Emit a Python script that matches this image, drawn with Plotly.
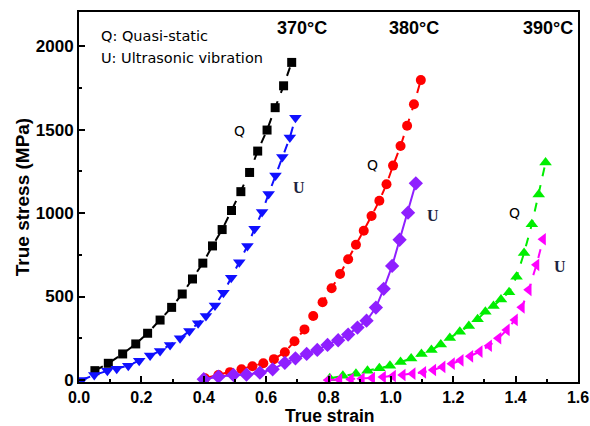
import plotly.graph_objects as go

# ---- data: true stress (MPa) vs true strain ----
# 370 °C
q370_x = [0.051, 0.094, 0.140, 0.182, 0.220, 0.260, 0.297, 0.331, 0.364, 0.397, 0.428,
          0.459, 0.489, 0.519, 0.547, 0.573, 0.603, 0.629, 0.656, 0.682]
q370_y = [56, 100, 156, 216, 280, 359, 435, 515, 605, 700, 803,
          901, 1015, 1128, 1243, 1371, 1497, 1631, 1762, 1902]
u370_x = [0.009, 0.049, 0.091, 0.121, 0.158, 0.193, 0.228, 0.260, 0.292, 0.324, 0.354,
          0.382, 0.407, 0.436, 0.463, 0.488, 0.514, 0.540, 0.563, 0.587, 0.608, 0.630,
          0.652, 0.676, 0.694]
u370_y = [0, 30, 55, 68, 86, 116, 146, 174, 210, 250, 293,
          340, 384, 446, 523, 612, 705, 803, 906, 1006, 1114, 1225,
          1336, 1452, 1570]

# 380 °C
q380_x = [0.404, 0.447, 0.484, 0.521, 0.556, 0.591, 0.625, 0.660, 0.691, 0.723, 0.751,
          0.781, 0.810, 0.837, 0.863, 0.888, 0.913, 0.938, 0.963, 0.986, 1.007, 1.031,
          1.052, 1.074, 1.096]
q380_y = [10, 30, 47, 64, 82, 100, 125, 166, 232, 303, 383,
          466, 549, 635, 723, 810, 894, 982, 1074, 1172, 1284, 1401,
          1523, 1651, 1796]
u380_x = [0.400, 0.447, 0.495, 0.537, 0.580, 0.621, 0.660, 0.694, 0.730, 0.764, 0.797,
          0.831, 0.863, 0.893, 0.922, 0.952, 0.977, 1.004, 1.028, 1.055, 1.080]
u380_y = [5, 20, 30, 32, 44, 64, 103, 130, 156, 180, 210,
          238, 272, 314, 355, 434, 546, 683, 840, 1002, 1178]

# 390 °C
q390_x = [0.804, 0.846, 0.888, 0.925, 0.963, 0.997, 1.031, 1.065, 1.098, 1.130, 1.160,
          1.189, 1.221, 1.250, 1.278, 1.303, 1.329, 1.353, 1.379, 1.403, 1.427, 1.452,
          1.474, 1.496]
q390_y = [10, 25, 38, 56, 70, 85, 108, 128, 155, 180, 212,
          252, 289, 324, 364, 409, 443, 482, 526, 618, 760, 933,
          1111, 1302]
u390_x = [0.799, 0.835, 0.872, 0.907, 0.940, 0.975, 1.007, 1.038, 1.070, 1.104, 1.136,
          1.166, 1.196, 1.224, 1.255, 1.285, 1.315, 1.345, 1.372, 1.398, 1.420, 1.442,
          1.467, 1.488]
u390_y = [0, 2, 5, 8, 12, 18, 24, 30, 38, 46, 60,
          78, 98, 118, 142, 170, 205, 250, 300, 360, 435, 540,
          690, 843]

# curve annotations (label, x, y)
curve_labels = [("Q", 0.516, 1491), ("U", 0.705, 1150),
                ("Q", 0.942, 1287), ("U", 1.135, 988),
                ("Q", 1.397, 1000), ("U", 1.542, 677)]
temp_labels = [("370°C", 0.715, 2108), ("380°C", 1.074, 2108), ("390°C", 1.503, 2108)]
legend_lines = ["Q: Quasi-static", "U: Ultrasonic vibration"]
x_title = "True strain"
y_title = "True stress (MPa)"

series = [
    (q370_x, q370_y, "#000000", "square", 9, "dash"),
    (u370_x, u370_y, "#1010ff", "triangle-down", 11, "dash"),
    (q380_x, q380_y, "#ff0000", "circle", 10, "dash"),
    (u380_x, u380_y, "#8f1fff", "diamond", 11, "solid"),
    (q390_x, q390_y, "#00ee00", "triangle-up", 11, "dash"),
    (u390_x, u390_y, "#ff00ff", "triangle-left", 11, "dash"),
]

fig = go.Figure()
for xs, ys, col, sym, size, dash in series:
    fig.add_trace(go.Scatter(
        x=xs, y=ys, mode="lines+markers",
        line=dict(color=col, width=2, dash=dash),
        marker=dict(symbol=sym, size=size, color=col, line=dict(width=0)),
        showlegend=False,
    ))

annotations = []
for txt, x, y in curve_labels:
    if txt == "Q":
        f = dict(family="DejaVu Sans, Arial", size=14, color="#000000")
    else:
        f = dict(family="Liberation Serif, Times New Roman", size=16, color="#1c2440", weight="bold")
    annotations.append(dict(x=x, y=y, text=txt, showarrow=False, font=f,
                            xanchor="center", yanchor="middle"))
for txt, x, y in temp_labels:
    annotations.append(dict(x=x, y=y, text=txt, showarrow=False,
                            font=dict(family="Liberation Sans, Arial", size=18,
                                      color="#000000", weight="bold"),
                            xanchor="center", yanchor="middle"))
for i, txt in enumerate(legend_lines):
    annotations.append(dict(x=0.0705, y=2060 - i * 132, text=txt, showarrow=False,
                            font=dict(family="DejaVu Sans, Arial", size=14.5, color="#000000"),
                            xanchor="left", yanchor="middle", xshift=-2))

# x-axis title placed below the tick labels
annotations.append(dict(x=0.503, y=0, xref="paper", yref="paper", text=x_title,
                        showarrow=False, xanchor="center", yanchor="middle", yshift=-33.5,
                        font=dict(family="Liberation Sans, Arial", size=17.5,
                                  color="#000000", weight="bold")))

y_title_font = dict(family="Liberation Sans, Arial", size=19, color="#000000", weight="bold")
tick_font = dict(family="Liberation Sans, Arial", size=16, color="#000000", weight="bold")

fig.update_layout(
    width=590, height=426,
    margin=dict(l=79, r=12, t=12, b=44),
    paper_bgcolor="white", plot_bgcolor="white",
    annotations=annotations,
    xaxis=dict(
        range=[0, 1.6], dtick=0.2, tickformat=".1f", automargin=False,
        showgrid=False, zeroline=False,
        showline=True, linecolor="black", linewidth=2, mirror=True,
        ticks="inside", ticklen=6, tickwidth=2, tickcolor="black",
        minor=dict(dtick=0.1, ticks="inside", ticklen=3, tickwidth=2, tickcolor="black"),
        tickfont=tick_font,
    ),
    yaxis=dict(
        range=[-12, 2204], dtick=500, automargin=False,
        showgrid=False, zeroline=False,
        showline=True, linecolor="black", linewidth=2, mirror=True,
        ticks="inside", ticklen=6, tickwidth=2, tickcolor="black",
        minor=dict(dtick=250, ticks="inside", ticklen=3, tickwidth=2, tickcolor="black"),
        tickfont=dict(family="Liberation Sans, Arial", size=17, color="#000000", weight="bold"),
        title=dict(text=y_title, font=y_title_font, standoff=1),
    ),
)

fig.write_html("out.html")
